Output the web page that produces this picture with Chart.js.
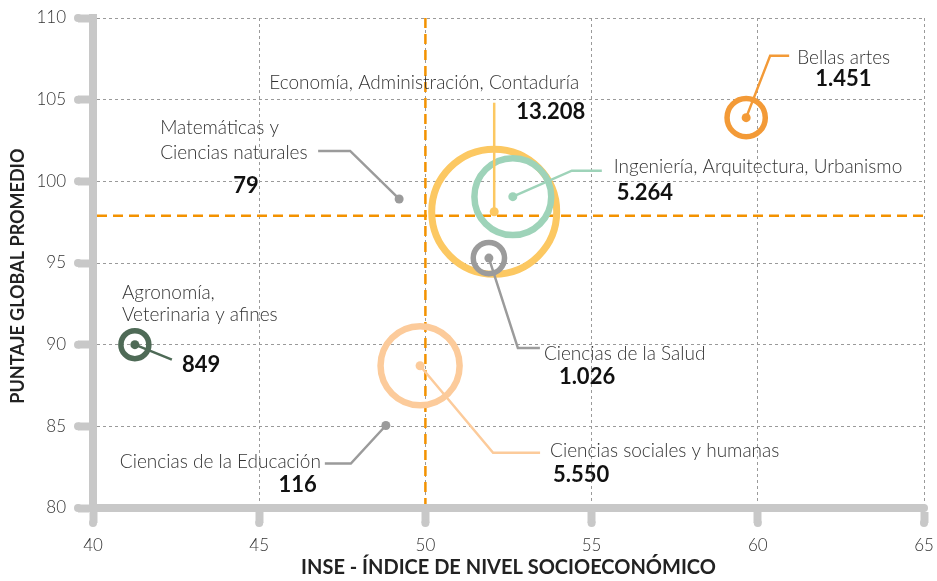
<!DOCTYPE html>
<html>
<head>
<meta charset="utf-8">
<script src="https://cdn.jsdelivr.net/npm/chart.js@4.4.1/dist/chart.umd.min.js"></script>
<style>
html,body{margin:0;padding:0;background:#fff;}
#wrap{width:937px;height:581px;}
</style>
</head>
<body>
<div id="wrap"><canvas id="chart1"></canvas></div>
<script>
// datos
var categories = ['Economía, Administración, Contaduría', 'Ingeniería, Arquitectura, Urbanismo',
  'Ciencias sociales y humanas', 'Bellas artes', 'Ciencias de la Salud',
  'Agronomía, Veterinaria y afines', 'Ciencias de la Educación', 'Matemáticas y Ciencias naturales'];
var inse = [52.07, 52.63, 49.84, 59.65, 51.91, 41.26, 48.81, 49.21];
var puntaje = [98.14, 99.06, 88.71, 103.9, 95.3, 90.0, 85.05, 98.92];
var estudiantes = [13208, 5264, 5550, 1451, 1026, 849, 116, 79];
var xTicks = [40, 45, 50, 55, 60, 65];
var yTicks = [80, 85, 90, 95, 100, 105, 110];
var inseMean = 50;
var puntajeMean = 97.9;

var colors = ['#fcc862', '#9ed3b9', '#fccb9b', '#f39a37', '#9b9b9b', '#4e6a56', '#9b9b9b', '#9b9b9b'];

// posiciones de las etiquetas, en px respecto al punto
var notes = [
  {path: [[0, -109]], text: [['Economía, Administración, Contaduría', -70, -129, 'center']], num: [91, -100, 'right']},
  {path: [[59, -26], [89, -26]], text: [['Ingeniería, Arquitectura, Urbanismo', 101, -30, 'left']], num: [104, -4, 'left']},
  {path: [[73, 87], [120, 87]], text: [['Ciencias sociales y humanas', 130, 85, 'left']], num: [133, 109, 'left']},
  {path: [[24, -62], [43, -62]], text: [['Bellas artes', 51, -60, 'left']], num: [69, -39, 'left']},
  {path: [[29, 90], [51, 90]], text: [['Ciencias de la Salud', 55, 96, 'left']], num: [70, 119, 'left']},
  {path: [[37, 15]], text: [['Agronomía,', -13, -52, 'left'], ['Veterinaria y afines', -13, -30, 'left']], num: [47, 20, 'left']},
  {path: [[-35, 38], [-61, 38]], text: [['Ciencias de la Educación', -65, 36, 'right']], num: [-69, 59, 'right']},
  {path: [[-49, -48], [-81, -48]], text: [['Matemáticas y', -239, -71, 'left'], ['Ciencias naturales', -239, -46, 'left']], num: [-166, -13, 'left']}
];

function fmt(n) {
  return String(n).replace(/\B(?=(\d{3})+(?!\d))/g, '.');
}

var points = inse.map(function (x, i) { return {x: x, y: puntaje[i]}; });
var maxN = Math.max.apply(null, estudiantes);

function ringOuter(i) {
  if (estudiantes[i] < 500) return 0;
  return 66 * Math.sqrt(estudiantes[i] / maxN);
}
function ringWidth(i) {
  var o = ringOuter(i);
  return o > 50 ? 7 : (o > 30 ? 6.5 : 5.5);
}
function ringRadius(i) {
  var o = ringOuter(i);
  return o ? o - ringWidth(i) / 2 : 0;
}

var axisCaps = {
  id: 'axisCaps',
  beforeDatasetsDraw: function (chart) {
    var ctx = chart.ctx, a = chart.chartArea, xs = chart.scales.x, ys = chart.scales.y;
    ctx.save();
    ctx.fillStyle = '#c8c8c8';
    function dot(x, y) { ctx.beginPath(); ctx.arc(x, y, 4, 0, Math.PI * 2); ctx.fill(); }
    yTicks.forEach(function (v) { dot(a.left - 15, ys.getPixelForValue(v)); });
    xTicks.forEach(function (v) { dot(xs.getPixelForValue(v), a.bottom + 15); });
    dot(a.left, a.top);
    dot(a.right, a.bottom);
    // lineas de promedio
    var mx = xs.getPixelForValue(inseMean);
    var my = ys.getPixelForValue(puntajeMean);
    ctx.strokeStyle = '#f39200';
    ctx.lineWidth = 2.5;
    ctx.setLineDash([10, 6]);
    ctx.beginPath();
    ctx.moveTo(mx, a.top); ctx.lineTo(mx, a.bottom - 4);
    ctx.moveTo(a.left + 4, my); ctx.lineTo(a.right, my);
    ctx.stroke();
    ctx.restore();
  }
};

var labels = {
  id: 'labels',
  afterDatasetsDraw: function (chart) {
    var ctx = chart.ctx, xs = chart.scales.x, ys = chart.scales.y;
    ctx.save();
    notes.forEach(function (n, i) {
      var px = xs.getPixelForValue(inse[i]), py = ys.getPixelForValue(puntaje[i]);
      ctx.strokeStyle = colors[i];
      ctx.lineWidth = 2.5;
      ctx.beginPath();
      ctx.moveTo(px, py);
      n.path.forEach(function (p) { ctx.lineTo(px + p[0], py + p[1]); });
      ctx.stroke();
      ctx.textBaseline = 'middle';
      ctx.font = '300 19px Lato';
      ctx.fillStyle = '#333';
      n.text.forEach(function (t) {
        ctx.textAlign = t[3];
        ctx.fillText(t[0], px + t[1], py + t[2]);
      });
      ctx.font = 'bold 22px Lato';
      ctx.fillStyle = '#111';
      ctx.textAlign = n.num[2];
      ctx.fillText(fmt(estudiantes[i]), px + n.num[0], py + n.num[1]);
    });
    ctx.restore();
  }
};

Chart.defaults.font.family = 'Lato';

var config = {
  type: 'scatter',
  data: {
    labels: categories,
    datasets: [
      {
        label: 'centro',
        data: points,
        pointRadius: 4.5,
        pointHoverRadius: 4.5,
        pointBorderWidth: 0,
        pointBackgroundColor: colors
      },
      {
        label: 'estudiantes',
        data: points,
        pointRadius: function (c) { return ringRadius(c.dataIndex); },
        pointHoverRadius: function (c) { return ringRadius(c.dataIndex); },
        pointBorderWidth: function (c) { return ringWidth(c.dataIndex); },
        pointBackgroundColor: 'rgba(0,0,0,0)',
        pointBorderColor: colors
      }
    ]
  },
  options: {
    responsive: true,
    maintainAspectRatio: false,
    animation: false,
    events: [],
    layout: {autoPadding: false, padding: {top: 18, right: 13, left: 0, bottom: 0}},
    plugins: {legend: {display: false}, tooltip: {enabled: false}},
    scales: {
      x: {
        type: 'linear',
        min: xTicks[0], max: xTicks[xTicks.length - 1],
        afterBuildTicks: function (s) { s.ticks = xTicks.map(function (v) { return {value: v}; }); },
        afterFit: function (s) { s.height = 73; s.paddingLeft = 0; s.paddingRight = 0; },
        border: {color: '#c8c8c8', width: 8, dash: [3, 3]},
        grid: {color: '#9a9a9a', lineWidth: 1, tickColor: '#c8c8c8', tickWidth: 8, tickLength: 15, tickBorderDash: []},
        ticks: {color: '#333', padding: 12, font: {size: 17, weight: '300'}},
        title: {display: true, text: 'INSE - ÍNDICE DE NIVEL SOCIOECONÓMICO', color: '#222', font: {size: 20, weight: 'bold'}, padding: {top: 0, bottom: 1}}
      },
      y: {
        type: 'linear',
        min: yTicks[0], max: yTicks[yTicks.length - 1],
        afterBuildTicks: function (s) { s.ticks = yTicks.map(function (v) { return {value: v}; }); },
        afterFit: function (s) { s.width = 93; s.paddingTop = 0; s.paddingBottom = 0; },
        border: {color: '#c8c8c8', width: 8, dash: [3, 3]},
        grid: {color: '#9a9a9a', lineWidth: 1, tickColor: '#c8c8c8', tickWidth: 8, tickLength: 15, tickBorderDash: []},
        ticks: {color: '#333', padding: 12, font: {size: 17, weight: '300'}},
        title: {display: true, text: 'PUNTAJE GLOBAL PROMEDIO      ', color: '#222', font: {size: 18, weight: 'bold'}, padding: {top: 7, bottom: 0}}
      }
    }
  },
  plugins: [axisCaps, labels]
};

var myChart = new Chart(document.getElementById('chart1'), config);
</script>
</body>
</html>
